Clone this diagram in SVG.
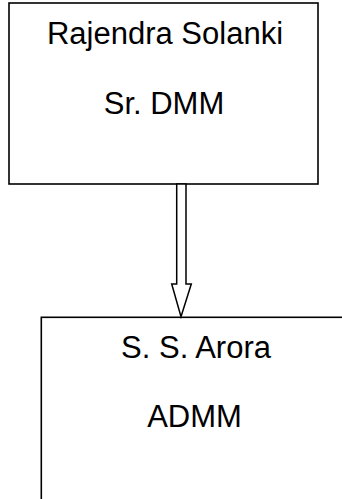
<svg xmlns="http://www.w3.org/2000/svg" width="342" height="499" viewBox="0 0 342 499">
<style>
.box{fill:#fff;stroke:#000;stroke-width:1.6}
.t{font-family:"Liberation Sans",Arial,sans-serif;font-size:31px;fill:#000;text-anchor:middle}
.arr{fill:#fff;stroke:#000;stroke-width:1.5;stroke-linejoin:miter}
</style>
<rect width="342" height="499" fill="#fff"/>
<g id="node-solanki">
<rect class="box" x="9" y="3" width="309" height="181"/>
<text class="t" x="165" y="44">Rajendra Solanki</text>
<text class="t" x="164" y="114">Sr. DMM</text>
</g>
<g id="node-arora">
<rect class="box" x="41.3" y="317.3" width="320" height="200"/>
<text class="t" x="196" y="357.5">S. S. Arora</text>
<text class="t" x="194.5" y="427">ADMM</text>
</g>
<g id="connectors">
<path class="arr" d="M176.7,184 L186,184 L186,284 L191.3,284 L181,316.7 L171.7,284 L176.7,284 Z"/>
</g>
</svg>
